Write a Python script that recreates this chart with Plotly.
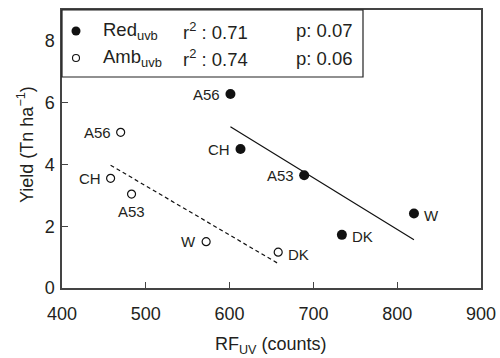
import numpy as np
import plotly.graph_objects as go

# ---- data ----
cultivars = ["A56", "CH", "A53", "W", "DK"]
red_rf = [601, 613, 689, 820, 734]
red_yield = [6.28, 4.50, 3.65, 2.41, 1.72]
amb_rf = [470, 458, 483, 572, 658]
amb_yield = [5.04, 3.55, 3.04, 1.50, 1.16]
legend_names = ["Red<sub>uvb</sub>", "Amb<sub>uvb</sub>"]
legend_r2 = ["0.71", "0.74"]
legend_p = ["0.07", "0.06"]
x_ticks = [400, 500, 600, 700, 800, 900]
y_ticks = [0, 2, 4, 6, 8]
x_title = "RF<sub>UV</sub> (counts)"
y_title = "Yield (Tn ha<sup>−1</sup>)"

# label placement (style)
red_pos = {"A56": "left", "CH": "left", "A53": "left", "W": "right", "DK": "right"}
amb_pos = {"A56": "left", "CH": "left", "A53": "below", "W": "left", "DK": "right"}

FONT = "Liberation Sans, Arial, sans-serif"
TXT = "#231f20"

fig = go.Figure()

def fit_line(xs, ys):
    xs = np.asarray(xs, float)
    ys = np.asarray(ys, float)
    m, b = np.polyfit(xs, ys, 1)
    xl = np.array([xs.min(), xs.max()])
    return xl, m * xl + b

rx, ry = fit_line(red_rf, red_yield)
ax_, ay_ = fit_line(amb_rf, amb_yield)

fig.add_trace(go.Scatter(x=rx, y=ry, mode="lines", line=dict(color="#111", width=1.2),
                         showlegend=False, hoverinfo="skip"))
fig.add_trace(go.Scatter(x=ax_, y=ay_, mode="lines",
                         line=dict(color="#111", width=1.2, dash="4px,3px"),
                         showlegend=False, hoverinfo="skip"))
fig.add_trace(go.Scatter(x=red_rf, y=red_yield, mode="markers",
                         marker=dict(size=10, color="#111", line=dict(width=0)),
                         showlegend=False))
fig.add_trace(go.Scatter(x=amb_rf, y=amb_yield, mode="markers",
                         marker=dict(size=8, color="white", line=dict(width=1.2, color="#111")),
                         showlegend=False))

def add_labels(xs, ys, pos):
    for name, x, y in zip(cultivars, xs, ys):
        p = pos[name]
        if p == "left":
            kw = dict(xanchor="right", xshift=-8, yshift=0)
        elif p == "right":
            kw = dict(xanchor="left", xshift=8, yshift=-2)
        else:
            kw = dict(xanchor="center", yshift=-17)
        fig.add_annotation(x=x, y=y, xref="x", yref="y", text=name, showarrow=False,
                           font=dict(family=FONT, size=15, color=TXT), yanchor="middle", **kw)

add_labels(red_rf, red_yield, red_pos)
add_labels(amb_rf, amb_yield, amb_pos)

# ---- custom legend box ----
L, R, T, B = 62, 481, 10, 288
def px(x):
    return (x - L) / (R - L)
def py(y):
    return (B - y) / (B - T)

fig.add_shape(type="rect", xref="paper", yref="paper", x0=0, x1=px(363), y0=py(77), y1=1,
              line=dict(color="#222", width=1.2), fillcolor="white", layer="above")
row_y = [31, 58]
fig.add_shape(type="circle", xref="paper", yref="paper", xsizemode="pixel", ysizemode="pixel",
              xanchor=px(76), yanchor=py(row_y[0]), x0=-4.5, x1=4.5, y0=-4.5, y1=4.5,
              fillcolor="#111", line=dict(width=0), layer="above")
fig.add_shape(type="circle", xref="paper", yref="paper", xsizemode="pixel", ysizemode="pixel",
              xanchor=px(76), yanchor=py(row_y[1]), x0=-3.5, x1=3.5, y0=-3.5, y1=3.5,
              fillcolor="white", line=dict(width=1.1, color="#111"), layer="above")
for i in range(2):
    for xpos, txt in [(101, legend_names[i]),
                      (181, "r<sup>2</sup> : " + legend_r2[i]),
                      (294, "p: " + legend_p[i])]:
        fig.add_annotation(x=px(xpos), y=py(row_y[i]), xref="paper", yref="paper", text=txt,
                           showarrow=False, xanchor="left", yanchor="middle",
                           font=dict(family=FONT, size=18.5, color=TXT))

# axis titles as annotations
fig.add_annotation(x=px(271), y=py(345), xref="paper", yref="paper", text=x_title,
                   showarrow=False, xanchor="center", yanchor="middle",
                   font=dict(family=FONT, size=18, color=TXT))
fig.add_annotation(x=px(25), y=py(145), xref="paper", yref="paper", text=y_title,
                   showarrow=False, xanchor="center", yanchor="middle", textangle=-90,
                   font=dict(family=FONT, size=18, color=TXT))

axis_common = dict(showline=True, mirror=True, linecolor="#444", linewidth=1.5,
                   ticks="inside", ticklen=6, tickcolor="#444", tickwidth=1.2,
                   showgrid=False, zeroline=False, automargin=False,
                   tickfont=dict(family=FONT, size=18, color=TXT))

fig.update_xaxes(range=[400, 900], tickvals=x_ticks, ticktext=[str(v) for v in x_ticks],
                 ticklabelstandoff=9, **axis_common)
fig.update_yaxes(range=[0, 9], tickvals=y_ticks, ticktext=[str(v) for v in y_ticks],
                 ticklabelstandoff=2, **axis_common)

fig.update_layout(width=500, height=358, margin=dict(l=62, r=19, t=10, b=70),
                  plot_bgcolor="white", paper_bgcolor="white",
                  font=dict(family=FONT, color=TXT), showlegend=False)

fig.write_html("out.html", config={"displayModeBar": False},
               post_script="document.body.style.margin='0px';document.body.style.padding='0px';")
